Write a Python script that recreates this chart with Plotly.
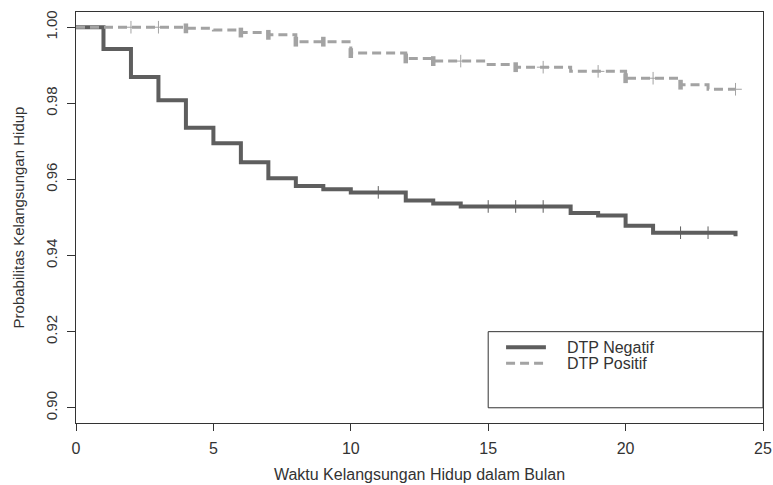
import numpy as np
import plotly.graph_objects as go

# ---- data ----
neg_times = [0, 1, 2, 3, 4, 5, 6, 7, 8, 9, 10, 12, 13, 14, 18, 19, 20, 21, 24]
neg_surv = [1.0, 0.9943, 0.9869, 0.9808, 0.9736, 0.9695, 0.9645, 0.9603, 0.9583,
            0.9574, 0.9566, 0.9545, 0.9537, 0.9529, 0.9512, 0.9505, 0.9478, 0.9460, 0.9451]
neg_censor = [11, 15, 16, 17, 22, 23]

pos_times = [0, 4, 5, 6, 7, 8, 10, 12, 13, 15, 16, 18, 20, 22, 23, 24]
pos_surv = [1.0, 0.9997, 0.9993, 0.9986, 0.9980, 0.9962, 0.9932, 0.9918, 0.9911,
            0.9902, 0.9895, 0.9884, 0.9866, 0.9849, 0.9837, 0.9837]
pos_censor_plus = [2, 3, 14, 17, 19, 21, 24]
pos_censor_multi = [4, 6, 7, 8, 9, 10, 12, 13, 16, 20, 22]

series_names = ["DTP Negatif", "DTP Positif"]
x_ticks = [0, 5, 10, 15, 20, 25]
y_ticks = [0.90, 0.92, 0.94, 0.96, 0.98, 1.00]
y_ticktext = ["0.90", "0.92", "0.94", "0.96", "0.98", "1.00"]

NEG_COLOR = "#5e5e5e"
POS_COLOR = "#a3a3a3"
FONT = "Liberation Sans, Arial, sans-serif"


def step_value(times, surv, t):
    idx = np.searchsorted(np.array(times), t, side="right") - 1
    return float(np.array(surv)[idx])


fig = go.Figure()

# Negative curve
fig.add_trace(go.Scatter(x=neg_times, y=neg_surv, mode="lines", line_shape="hv",
                         line=dict(color=NEG_COLOR, width=4), showlegend=False,
                         name=series_names[0]))
fig.add_trace(go.Scatter(x=neg_censor, y=[step_value(neg_times, neg_surv, t) for t in neg_censor],
                         mode="markers", showlegend=False,
                         marker=dict(symbol="cross-thin", size=9, color=NEG_COLOR,
                                     line=dict(color=NEG_COLOR, width=1))))

# Positive curve
fig.add_trace(go.Scatter(x=pos_times, y=pos_surv, mode="lines", line_shape="hv",
                         line=dict(color=POS_COLOR, width=3, dash="9px,5px"), showlegend=False,
                         name=series_names[1]))
fig.add_trace(go.Scatter(x=pos_censor_plus, y=[step_value(pos_times, pos_surv, t) for t in pos_censor_plus],
                         mode="markers", showlegend=False,
                         marker=dict(symbol="cross-thin", size=9, color=POS_COLOR,
                                     line=dict(color=POS_COLOR, width=1))))
fig.add_trace(go.Scatter(x=pos_censor_multi, y=[step_value(pos_times, pos_surv, t) for t in pos_censor_multi],
                         mode="markers", showlegend=False,
                         marker=dict(symbol="line-ns", size=7, color=POS_COLOR,
                                     line=dict(color=POS_COLOR, width=4.5))))

# ---- legend drawn as an R-style box ----
fig.add_shape(type="rect", xref="x", yref="y", x0=15, x1=25, y0=0.90, y1=0.92,
              line=dict(color="#333333", width=1), fillcolor="rgba(0,0,0,0)")
fig.add_shape(type="line", xref="x", yref="y", x0=15.65, x1=17.1, y0=0.9159, y1=0.9159,
              line=dict(color=NEG_COLOR, width=4))
fig.add_shape(type="line", xref="x", yref="y", x0=15.65, x1=17.1, y0=0.9117, y1=0.9117,
              line=dict(color=POS_COLOR, width=3, dash="9px,5px"))
for name, yv in zip(series_names, [0.9159, 0.9117]):
    fig.add_annotation(x=17.8, y=yv, xref="x", yref="y", text=name, showarrow=False,
                       xanchor="left", yanchor="middle",
                       font=dict(family=FONT, size=16, color="#333333"))

fig.update_layout(
    width=773, height=485,
    margin=dict(l=76, r=10, t=12, b=62, autoexpand=False),
    paper_bgcolor="white", plot_bgcolor="white",
    font=dict(family=FONT, size=16, color="#333333"),
)
fig.update_xaxes(range=[0, 25], tickvals=x_ticks, showgrid=False, zeroline=False,
                 automargin=False,
                 showline=True, mirror=True, linecolor="#333333", linewidth=1,
                 ticks="outside", ticklen=7, tickcolor="#333333",
                 tickfont=dict(size=16), ticklabelstandoff=4,
                 title=dict(text="Waktu Kelangsungan Hidup dalam Bulan", standoff=12,
                            font=dict(size=16)))
fig.update_yaxes(range=[0.896, 1.004], tickvals=y_ticks, ticktext=y_ticktext,
                 showgrid=False, zeroline=False, automargin=False,
                 showline=True, mirror=True, linecolor="#333333", linewidth=1,
                 ticks="outside", ticklen=8, tickcolor="#333333", tickangle=-90,
                 tickfont=dict(size=15), ticklabelstandoff=4,
                 title=dict(text="Probabilitas Kelangsungan Hidup", standoff=14,
                            font=dict(size=15)))

fig.write_html("out.html", config={"displayModeBar": False},
               post_script="document.body.style.margin='0';document.body.style.overflow='hidden';")
